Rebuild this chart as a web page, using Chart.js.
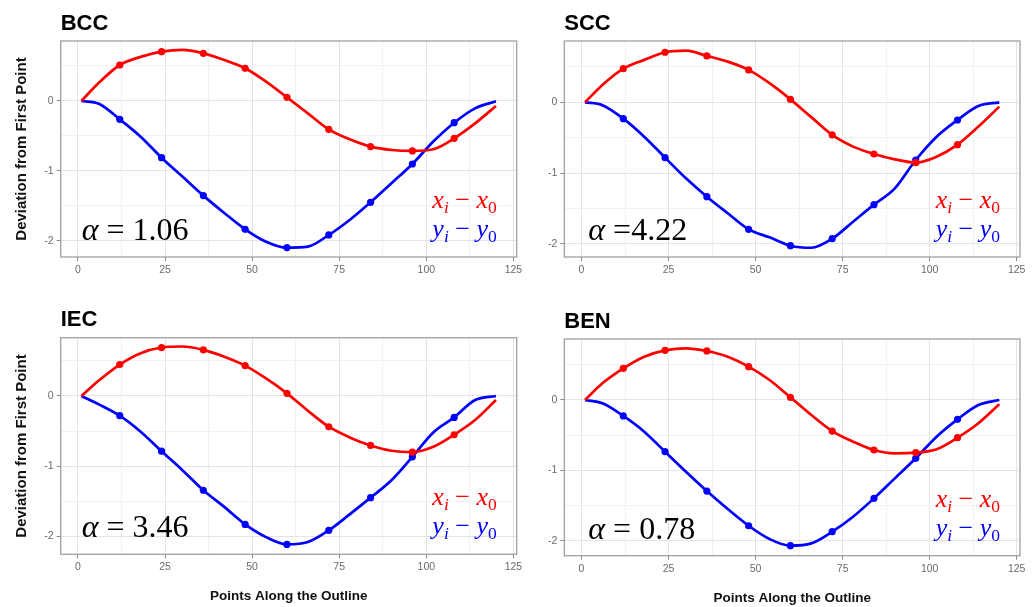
<!DOCTYPE html>
<html><head><meta charset="utf-8">
<script src="https://cdn.jsdelivr.net/npm/chart.js@4.4.1/dist/chart.umd.min.js"></script>
<style>
html,body{margin:0;padding:0;background:#fff;}
body{width:1033px;height:607px;position:relative;overflow:hidden;}
.p{position:absolute;}
canvas{display:block;}
</style></head><body>
<script>
// ---------- data ----------
const panelTitles = ['BCC', 'SCC', 'IEC', 'BEN'];
const alphaLabels = ['α = 1.06', 'α =4.22', 'α = 3.46', 'α = 0.78'];
const xs = [1, 6, 12, 18, 24, 30, 36, 42, 48, 54, 60, 66, 72, 78, 84, 90, 96, 102, 108, 114, 120];
const markerXs = [12, 24, 36, 48, 60, 72, 84, 96, 108];

const bccX = [0, 0.26, 0.514, 0.63, 0.705, 0.73, 0.681, 0.586, 0.467, 0.276, 0.052, -0.176, -0.405, -0.548, -0.652, -0.70, -0.714, -0.69, -0.533, -0.32, -0.071];
const bccY = [0, -0.04, -0.262, -0.51, -0.81, -1.08, -1.352, -1.60, -1.833, -2.01, -2.095, -2.08, -1.914, -1.70, -1.448, -1.176, -0.90, -0.58, -0.31, -0.105, -0.005];

const sccX = [0, 0.245, 0.476, 0.60, 0.708, 0.73, 0.656, 0.575, 0.458, 0.27, 0.042, -0.21, -0.462, -0.627, -0.731, -0.807, -0.854, -0.77, -0.599, -0.344, -0.061];
const sccY = [0, -0.04, -0.231, -0.486, -0.783, -1.075, -1.335, -1.57, -1.797, -1.91, -2.028, -2.057, -1.929, -1.689, -1.448, -1.217, -0.816, -0.486, -0.25, -0.052, 0];

const iecX = [0, 0.22, 0.448, 0.61, 0.69, 0.705, 0.657, 0.56, 0.433, 0.25, 0.038, -0.21, -0.438, -0.59, -0.705, -0.78, -0.80, -0.724, -0.552, -0.343, -0.057];
const iecY = [0, -0.12, -0.281, -0.51, -0.786, -1.057, -1.343, -1.58, -1.829, -2.01, -2.114, -2.08, -1.914, -1.686, -1.448, -1.2, -0.867, -0.52, -0.305, -0.057, 0];

const benX = [0, 0.237, 0.45, 0.616, 0.706, 0.735, 0.697, 0.616, 0.474, 0.284, 0.038, -0.213, -0.441, -0.592, -0.711, -0.758, -0.749, -0.70, -0.536, -0.33, -0.062];
const benY = [0, -0.047, -0.227, -0.45, -0.735, -1.02, -1.294, -1.55, -1.787, -1.976, -2.071, -2.038, -1.872, -1.659, -1.398, -1.114, -0.829, -0.521, -0.275, -0.071, 0];

const seriesXDev = [bccX, sccX, iecX, benX];
const seriesYDev = [bccY, sccY, iecY, benY];

const xMajor = [0, 25, 50, 75, 100, 125];
const xMinor = [12.5, 37.5, 62.5, 87.5, 112.5];
const yMajor = [-2, -1, 0];
const yMinor = [-1.5, -0.5, 0.5];
const yRanges = [[-2.229, 0.857], [-2.188, 0.867], [-2.255, 0.83], [-2.213, 0.867]];
const xRange = [-4.95, 125.95];

const yAxisTitle = 'Deviation from First Point';
const xAxisTitle = 'Points Along the Outline';

// ---------- layout ----------
const layouts = [
  {left: 0,   top: 0,   w: 530, h: 290, L: 60.7, R: 516.7, T: 41,   B: 257,   yT: true,  xT: false},
  {left: 530, top: 0,   w: 503, h: 290, L: 34.3, R: 490,   T: 41,   B: 257,   yT: false, xT: false},
  {left: 0,   top: 290, w: 530, h: 317, L: 60.7, R: 516.7, T: 47.7, B: 264.3, yT: true,  xT: true, xTc: 306},
  {left: 530, top: 290, w: 503, h: 317, L: 34.3, R: 490,   T: 49,   B: 265.7, yT: false, xT: true, xTc: 308}
];

Chart.defaults.font.family = '"Liberation Sans", Arial, sans-serif';
const SERIF = '"Liberation Serif", "DejaVu Serif", serif';

function drawExpr(ctx, right, base, v, color) {
  const S = 26, s = 17.5;
  const parts = [
    {t: v, f: `italic ${S}px ${SERIF}`, dy: 0},
    {t: 'i', f: `italic ${s}px ${SERIF}`, dy: 5},
    {t: ' \u2212 ', f: `${S}px ${SERIF}`, dy: 0},
    {t: v, f: `italic ${S}px ${SERIF}`, dy: 0},
    {t: '0', f: `${s}px ${SERIF}`, dy: 5}
  ];
  let total = 0;
  parts.forEach(p => { ctx.font = p.f; p.w = ctx.measureText(p.t).width; total += p.w; });
  let x = right - total;
  ctx.fillStyle = color;
  ctx.textAlign = 'left';
  ctx.textBaseline = 'alphabetic';
  parts.forEach(p => { ctx.font = p.f; ctx.fillText(p.t, x, base + p.dy); x += p.w; });
}

const deco = {
  id: 'deco',
  beforeDatasetsDraw(chart) {
    const {ctx, chartArea: ca} = chart;
    ctx.save();
    ctx.strokeStyle = '#a0a0a0';
    ctx.lineWidth = 1.3;
    ctx.strokeRect(ca.left, ca.top, ca.right - ca.left, ca.bottom - ca.top);
    ctx.restore();
  },
  afterDraw(chart, args, o) {
    const {ctx, chartArea: ca} = chart;
    ctx.save();
    ctx.textAlign = 'left';
    ctx.textBaseline = 'alphabetic';
    ctx.fillStyle = '#000';
    ctx.font = 'bold 22px "Liberation Sans", Arial, sans-serif';
    ctx.fillText(o.title, ca.left, ca.top - 11.5);
    // alpha annotation
    const a = o.alpha;
    let x = ca.left + o.ax;
    const by = ca.bottom - 17;
    ctx.font = `italic 32px ${SERIF}`;
    ctx.fillText(a[0], x, by);
    x += ctx.measureText(a[0]).width;
    ctx.font = `32px ${SERIF}`;
    ctx.fillText(a.slice(1), x, by);
    // series labels
    drawExpr(ctx, ca.right - 20, ca.bottom - 49, 'x', '#ff0000');
    drawExpr(ctx, ca.right - 20, ca.bottom - 20, 'y', '#0000ff');
    ctx.restore();
  }
};

function makeTicks(maj, min) {
  return maj.concat(min).sort((a, b) => a - b).map(v => ({value: v}));
}

layouts.forEach((lay, i) => {
  const div = document.createElement('div');
  div.className = 'p';
  div.style.left = lay.left + 'px';
  div.style.top = lay.top + 'px';
  div.style.width = lay.w + 'px';
  div.style.height = lay.h + 'px';
  const cv = document.createElement('canvas');
  cv.width = lay.w; cv.height = lay.h;
  cv.style.width = lay.w + 'px'; cv.style.height = lay.h + 'px';
  div.appendChild(cv);
  document.body.appendChild(div);

  const xTitleSize = 13.5;
  const xH = lay.xT ? (lay.h - lay.B) : 25;
  const padBottom = lay.h - lay.B - xH;
  const xTitlePad = lay.xT ? (lay.h - lay.xTc - xTitleSize * 0.6) : 0;

  const mk = (arr) => xs.map((x, k) => ({x: x, y: arr[k]}));
  const radius = (c) => markerXs.includes(xs[c.dataIndex]) ? 3.6 : 0;

  new Chart(cv, {
    type: 'line',
    data: {
      datasets: [
        {label: 'x', data: mk(seriesXDev[i]), borderColor: '#ff0000', backgroundColor: '#ff0000',
         borderWidth: 2.7, pointRadius: radius, pointBorderWidth: 0, cubicInterpolationMode: 'monotone', fill: false},
        {label: 'y', data: mk(seriesYDev[i]), borderColor: '#0000ff', backgroundColor: '#0000ff',
         borderWidth: 2.7, pointRadius: radius, pointBorderWidth: 0, cubicInterpolationMode: 'monotone', fill: false}
      ]
    },
    options: {
      responsive: false,
      animation: false,
      events: [],
      layout: {padding: {left: 0, top: lay.T, right: lay.w - lay.R, bottom: padBottom}},
      plugins: {
        legend: {display: false},
        tooltip: {enabled: false},
        deco: {title: panelTitles[i], alpha: alphaLabels[i], ax: lay.yT ? 21 : 24}
      },
      scales: {
        x: {
          type: 'linear', min: xRange[0], max: xRange[1],
          afterBuildTicks: s => { s.ticks = makeTicks(xMajor, xMinor); },
          afterFit: s => { s.height = xH; },
          ticks: {
            color: '#6a6a6a', font: {size: 10.5}, padding: 3, maxRotation: 0, autoSkip: false,
            callback: v => xMajor.includes(v) ? String(v) : ''
          },
          grid: {
            color: c => (c.tick && xMinor.includes(c.tick.value)) ? '#f1f1f1' : '#e4e4e4',
            tickColor: c => (c.tick && xMinor.includes(c.tick.value)) ? 'rgba(0,0,0,0)' : '#8a8a8a',
            tickLength: 4, lineWidth: 1
          },
          border: {display: false},
          title: {display: lay.xT, text: xAxisTitle, color: '#111', font: {size: xTitleSize, weight: 'bold'},
                  padding: {top: 0, bottom: xTitlePad}}
        },
        y: {
          type: 'linear', min: yRanges[i][0], max: yRanges[i][1],
          afterBuildTicks: s => { s.ticks = makeTicks(yMajor, yMinor); },
          afterFit: s => { s.width = lay.L; },
          ticks: {
            color: '#6a6a6a', font: {size: 10.5}, padding: 3, autoSkip: false,
            callback: v => yMajor.includes(v) ? String(v) : ''
          },
          grid: {
            color: c => (c.tick && yMinor.includes(c.tick.value)) ? '#f1f1f1' : '#e4e4e4',
            tickColor: c => (c.tick && yMinor.includes(c.tick.value)) ? 'rgba(0,0,0,0)' : '#8a8a8a',
            tickLength: 4, lineWidth: 1
          },
          border: {display: false},
          title: {display: lay.yT, text: yAxisTitle, color: '#111', font: {size: 15, weight: 'bold'},
                  padding: {top: 13, bottom: 0}}
        }
      }
    },
    plugins: [deco]
  });
});
</script>
</body></html>
